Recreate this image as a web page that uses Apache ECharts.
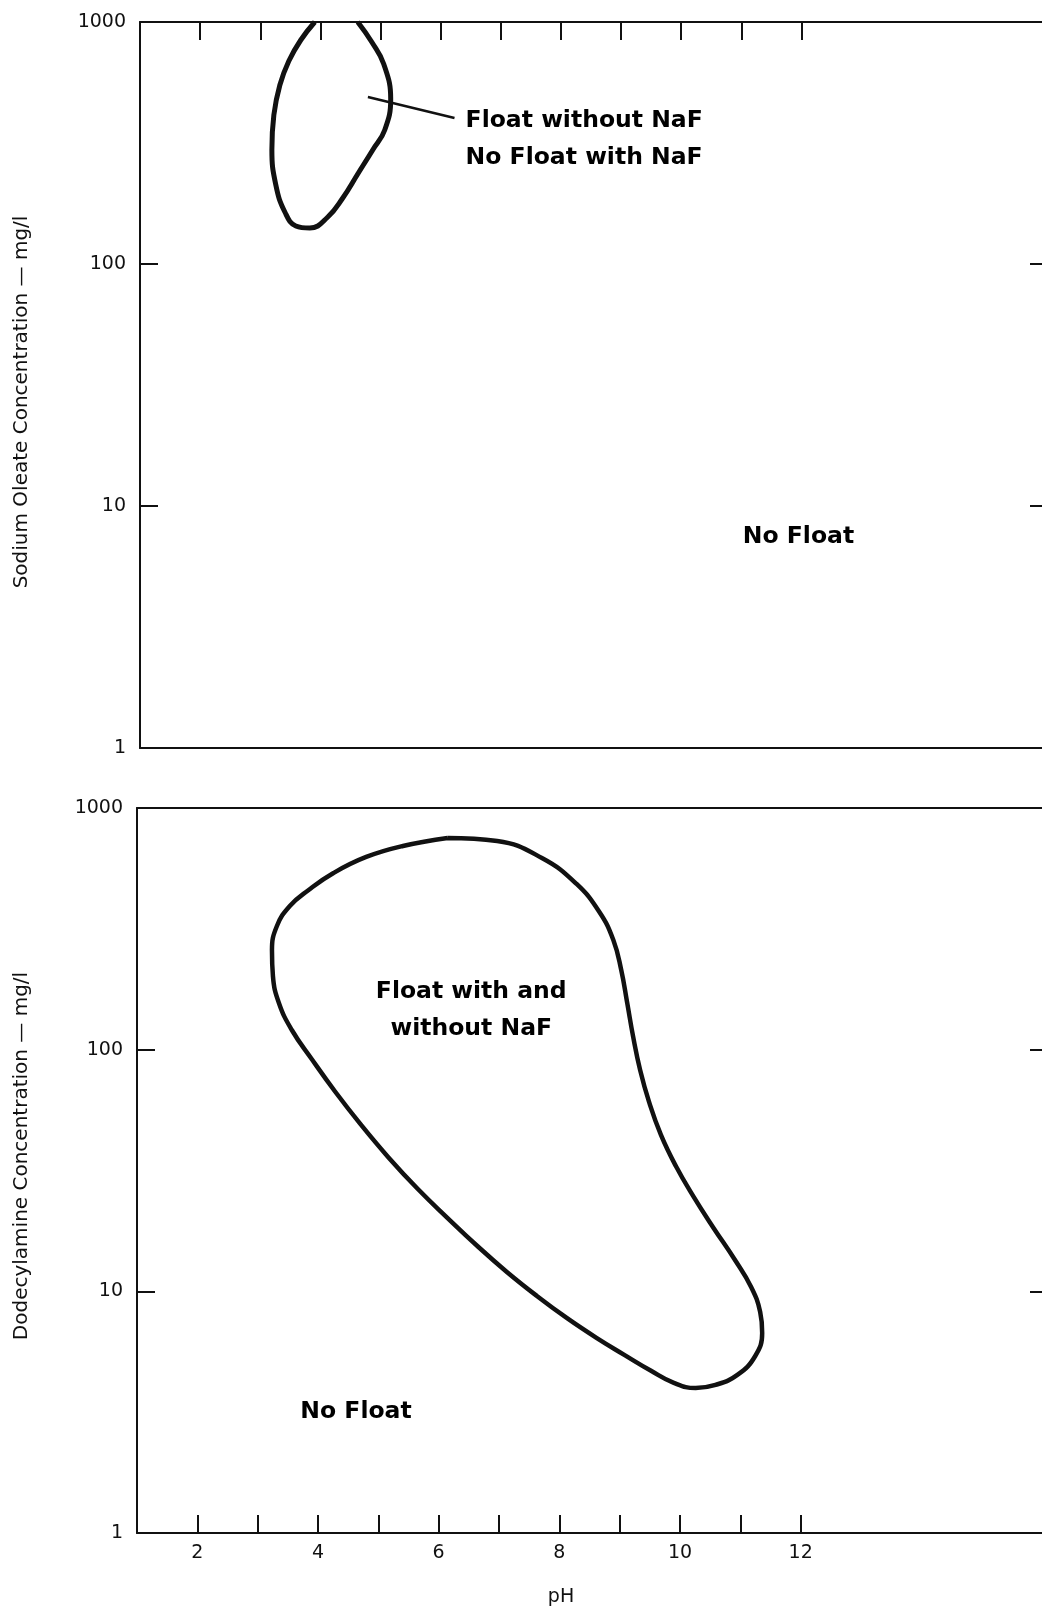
<!DOCTYPE html>
<html><head><meta charset="utf-8">
<script src="https://cdn.jsdelivr.net/npm/echarts@6/dist/echarts.min.js"></script>
<style>html,body{margin:0;padding:0;background:#fff}#c{width:1042px;height:1609px}</style>
</head><body><div id="c"></div>
<script>
// ---- axis values ----
const phMin = 1, phMax = 16;
const phTickValues = [2, 3, 4, 5, 6, 7, 8, 9, 10, 11, 12];
const phLabelValues = [2, 4, 6, 8, 10, 12];
const concMin = 1, concMax = 1000;

// ---- top panel: sodium oleate flotation region (pH, mg/l) ----
const oleatePH   = [4.621, 4.854, 5.053, 5.169, 5.070, 4.870, 4.621, 4.372, 4.123, 3.824, 3.591, 3.409, 3.259, 3.193, 3.226, 3.326, 3.475, 3.674, 3.907];
const oleateConc = [1000, 826.9, 670.7, 480.8, 357.9, 295.9, 235.5, 187.4, 156.4, 140.8, 143.6, 164.0, 212.1, 295.9, 412.7, 549.2, 690.1, 842.6, 1000];

// leader line from region to its label
const leaderPH   = [4.79, 6.23];
const leaderConc = [490, 401];

// ---- bottom panel: dodecylamine flotation region (pH, mg/l) ----
const aminePH   = [6.148, 6.970, 7.711, 8.286, 8.664, 8.895, 9.026, 9.125, 9.224, 9.339, 9.487, 9.684, 9.931, 10.227, 10.556, 10.901, 11.181, 11.329, 11.362, 11.247, 10.951, 10.589, 10.260, 9.898, 9.520, 9.076, 8.615, 8.122, 7.628, 7.135, 6.641, 6.148, 5.655, 5.161, 4.701, 4.289, 3.895, 3.566, 3.352, 3.253, 3.237, 3.319, 3.533, 3.845, 4.257, 4.799, 5.408, 6.148];
const amineConc = [751.6, 730.5, 621.2, 484.9, 371.3, 284.4, 213.6, 156.1, 112.9, 82.4, 60.8, 44.4, 33.0, 24.6, 18.3, 13.6, 10.4, 8.22, 6.73, 5.40, 4.51, 4.10, 3.98, 4.18, 4.69, 5.46, 6.42, 7.76, 9.57, 12.0, 15.4, 20.1, 26.5, 36.0, 49.3, 66.8, 91.5, 120.6, 156.1, 201.8, 258.5, 324.9, 393.1, 457.9, 538.4, 627.2, 696.3, 751.6];

// ---- annotations ----
const topNotes    = ['Float without NaF\nNo Float with NaF', 'No Float'];
const topNotePH   = [6.415, 11.95];
const topNoteConc = [327, 7.45];
const topNoteAlign = ['left', 'center'];
const botNotes    = ['Float with and\nwithout NaF', 'No Float'];
const botNotePH   = [6.54, 4.63];
const botNoteConc = [145, 3.17];

const zip = (a, b) => a.map((v, i) => [v, b[i]]);
const INK = '#111';
const FONT = 'DejaVu Sans';

function xAxes(gridIndex, pos, ticks, labels) {
  return {
    type: 'value', gridIndex, position: pos, min: phMin, max: phMax,
    axisLine: { show: true, onZero: false, lineStyle: { color: INK, width: 2 } },
    axisTick: ticks ? { show: true, inside: true, length: 18, customValues: phTickValues, lineStyle: { color: INK, width: 2 } } : { show: false },
    axisLabel: labels ? { show: true, customValues: phLabelValues, margin: 11, color: INK, fontFamily: FONT, fontSize: 19 } : { show: false },
    splitLine: { show: false }
  };
}
function yAxes(gridIndex, pos) {
  const left = pos === 'left';
  return {
    type: 'log', logBase: 10, gridIndex, position: pos, min: concMin, max: concMax,
    axisLine: { show: left, lineStyle: { color: INK, width: 2 } },
    axisTick: { show: true, inside: true, length: left ? 18 : 12, lineStyle: { color: INK, width: 2 } },
    axisLabel: left ? { show: true, margin: 14, color: INK, fontFamily: FONT, fontSize: 19, formatter: v => String(Math.round(v)) } : { show: false },
    splitLine: { show: false }, minorTick: { show: false }
  };
}
function notes(texts, phs, concs, aligns, xi, yi) {
  return {
    type: 'scatter', xAxisIndex: xi, yAxisIndex: yi, symbolSize: 0, silent: true,
    itemStyle: { opacity: 1 },
    data: texts.map((t, i) => ({
      value: [phs[i], concs[i]],
      label: {
        show: true, position: 'inside', formatter: t, align: aligns ? aligns[i] : 'center',
        verticalAlign: 'middle', color: '#000', opacity: 1, fontFamily: FONT, fontWeight: 'bold', fontSize: 23.5, lineHeight: 37
      }
    }))
  };
}

const chart = echarts.init(document.getElementById('c'), null, { renderer: 'canvas' });
chart.setOption({
  animation: false,
  backgroundColor: '#fff',
  grid: [
    { left: 140, top: 22, width: 903, height: 726 },
    { left: 137, top: 808, width: 912, height: 725 }
  ],
  xAxis: [
    xAxes(0, 'bottom', false, false),
    xAxes(0, 'top', true, false),
    xAxes(1, 'bottom', true, true),
    xAxes(1, 'top', false, false)
  ],
  yAxis: [yAxes(0, 'left'), yAxes(0, 'right'), yAxes(1, 'left'), yAxes(1, 'right')],
  series: [
    { type: 'line', xAxisIndex: 0, yAxisIndex: 0, data: zip(oleatePH, oleateConc), smooth: 0.45, showSymbol: false, silent: true,
      lineStyle: { color: INK, width: 5 } },
    { type: 'line', xAxisIndex: 0, yAxisIndex: 0, data: zip(leaderPH, leaderConc), showSymbol: false, silent: true,
      lineStyle: { color: INK, width: 2.5 } },
    notes(topNotes, topNotePH, topNoteConc, topNoteAlign, 0, 0),
    { type: 'line', xAxisIndex: 2, yAxisIndex: 2, data: zip(aminePH, amineConc), smooth: 0.45, showSymbol: false, silent: true,
      lineStyle: { color: INK, width: 4.5 } },
    notes(botNotes, botNotePH, botNoteConc, null, 2, 2)
  ],
  graphic: [
    { type: 'text', x: 22, y: 402, rotation: Math.PI / 2,
      style: { text: 'Sodium Oleate Concentration — mg/l', font: '20px "DejaVu Sans"', fill: INK, align: 'center', verticalAlign: 'middle' } },
    { type: 'text', x: 22, y: 1156, rotation: Math.PI / 2,
      style: { text: 'Dodecylamine Concentration — mg/l', font: '20px "DejaVu Sans"', fill: INK, align: 'center', verticalAlign: 'middle' } },
    { type: 'text', x: 561, y: 1597,
      style: { text: 'pH', font: '19px "DejaVu Sans"', fill: INK, align: 'center', verticalAlign: 'middle' } }
  ]
});
</script>
</body></html>
